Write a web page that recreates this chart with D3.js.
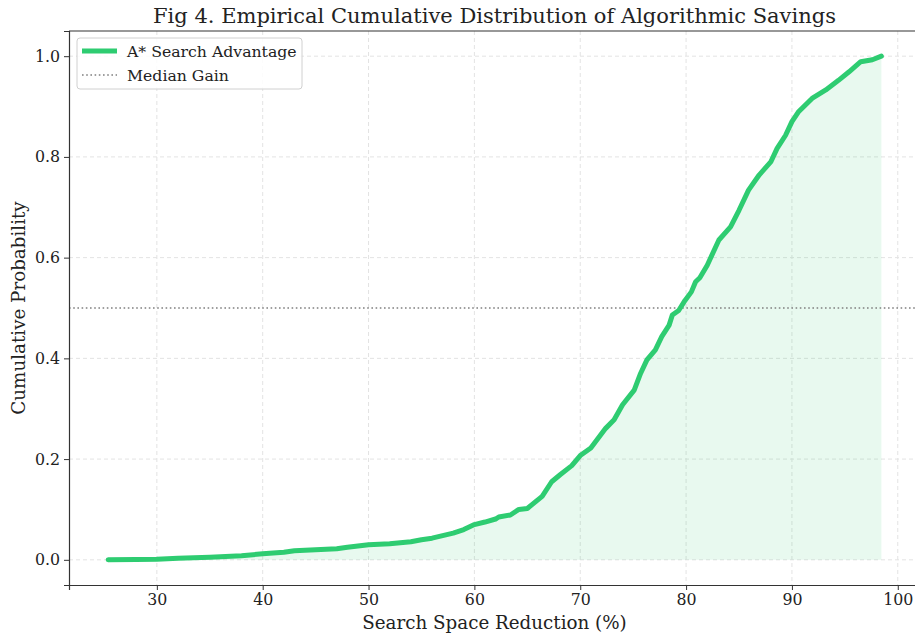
<!DOCTYPE html>
<meta charset="utf-8">
<style>
body { margin: 0; background: #fff; }
text { font-family: "DejaVu Serif", serif; fill: #222; }
.grid line { stroke: #e3e3e3; stroke-dasharray: 4,3; }
.axis path, .axis line { stroke: #333; }
.axis text { font-size: 15.8px; }
</style>
<svg width="915" height="637"></svg>
<script src="https://cdn.jsdelivr.net/npm/d3@7"></script>
<script>

// ECDF: search space reduction (%) and cumulative probability
var reduction = [25.4, 28, 30, 32, 35, 38, 40, 42, 43, 45, 47, 48, 50, 52, 54, 55, 56, 57, 58, 59, 60, 61, 62, 62.3, 63.4, 64.2, 65.0,
  66.4, 67.3, 68.1, 69.2, 70.0, 71.0, 72.4, 73.2, 74.0, 75.1, 75.7, 76.3, 77.1, 77.7, 78.4, 78.7, 79.3, 79.9, 80.5,
  80.9, 81.3, 82.0, 83.1, 84.2, 85.0, 85.9, 86.9, 88.0, 88.6, 89.4, 90.0, 90.6, 91.9, 93.2, 94.4, 95.4, 96.5, 97.6, 98.45];
var cumProb = [0.0, 0.0005, 0.001, 0.003, 0.005, 0.008, 0.012, 0.015, 0.018, 0.020, 0.022, 0.025, 0.030, 0.032, 0.036, 0.040, 0.043, 0.048, 0.053, 0.060, 0.070, 0.075, 0.081, 0.085, 0.089, 0.100, 0.102,
  0.126, 0.155, 0.169, 0.187, 0.207, 0.222, 0.261, 0.278, 0.308, 0.337, 0.370, 0.397, 0.417, 0.443, 0.466, 0.486, 0.495, 0.515, 0.532,
  0.552, 0.560, 0.585, 0.635, 0.661, 0.694, 0.734, 0.764, 0.790, 0.817, 0.843, 0.870, 0.889, 0.916, 0.933, 0.952, 0.969, 0.989, 0.993, 1.0];
var xTicks = [30, 40, 50, 60, 70, 80, 90, 100];
var yTicks = [0.0, 0.2, 0.4, 0.6, 0.8, 1.0];
var medianGain = 0.5;

var svg = d3.select("svg"),
    plotL = 69, plotR = 920, plotT = 31, plotB = 585;

var data = reduction.map(function(r, i) { return {x: r, y: cumProb[i]}; });

var x = d3.scaleLinear().domain([21.7, 102.1]).range([plotL, plotR]);
var y = d3.scaleLinear().domain([-0.05, 1.05]).range([plotB, plotT]);

// grid
var grid = svg.append("g").attr("class", "grid");
grid.selectAll(".gx").data(xTicks).enter().append("line")
    .attr("x1", x).attr("x2", x).attr("y1", plotT).attr("y2", plotB);
grid.selectAll(".gy").data(yTicks).enter().append("line")
    .attr("x1", plotL).attr("x2", plotR).attr("y1", y).attr("y2", y);

// fill under the curve
svg.append("path")
    .datum(data)
    .attr("fill", "#2ecc71")
    .attr("fill-opacity", 0.11)
    .attr("d", d3.area().x(function(d) { return x(d.x); }).y0(y(0)).y1(function(d) { return y(d.y); }));

// median line
svg.append("line")
    .attr("x1", plotL).attr("x2", plotR)
    .attr("y1", y(medianGain)).attr("y2", y(medianGain))
    .attr("stroke", "#808080").attr("stroke-width", 1.6)
    .attr("stroke-dasharray", "1.6,2.6");

// ECDF curve
svg.append("path")
    .datum(data)
    .attr("fill", "none")
    .attr("stroke", "#2ecc71")
    .attr("stroke-width", 5)
    .attr("stroke-linejoin", "round")
    .attr("stroke-linecap", "round")
    .attr("d", d3.line().x(function(d) { return x(d.x); }).y(function(d) { return y(d.y); }));

// axes
svg.append("g").attr("class", "axis")
    .attr("transform", "translate(0," + plotB + ")")
    .call(d3.axisBottom(x).tickValues(xTicks).tickFormat(d3.format("d")).tickSizeOuter(0).tickSize(5).tickPadding(4));
svg.append("g").attr("class", "axis")
    .attr("transform", "translate(" + plotL + ",0)")
    .call(d3.axisLeft(y).tickValues(yTicks).tickFormat(d3.format(".1f")).tickSizeOuter(0).tickSize(5).tickPadding(4));
svg.append("line")
    .attr("x1", plotL).attr("x2", plotR).attr("y1", plotT).attr("y2", plotT)
    .attr("stroke", "#333").attr("stroke-width", 1.2);
svg.selectAll(".axis .domain").attr("stroke-width", 1.2);

// labels
svg.append("text")
    .attr("x", (plotL + plotR) / 2).attr("y", 23)
    .attr("text-anchor", "middle").style("font-size", "21px")
    .text("Fig 4. Empirical Cumulative Distribution of Algorithmic Savings");
svg.append("text")
    .attr("x", (plotL + plotR) / 2).attr("y", 629)
    .attr("text-anchor", "middle").style("font-size", "18.3px")
    .text("Search Space Reduction (%)");
svg.append("text")
    .attr("transform", "translate(25," + ((plotT + plotB) / 2) + ") rotate(-90)")
    .attr("text-anchor", "middle").style("font-size", "18.3px")
    .text("Cumulative Probability");

// legend
var lg = svg.append("g").attr("transform", "translate(77,38)");
lg.append("rect")
    .attr("width", 225).attr("height", 51).attr("rx", 3)
    .attr("fill", "#fff").attr("fill-opacity", 0.85)
    .attr("stroke", "#d0d0d0");
lg.append("line").attr("x1", 5).attr("x2", 40).attr("y1", 13).attr("y2", 13)
    .attr("stroke", "#2ecc71").attr("stroke-width", 5);
lg.append("line").attr("x1", 5).attr("x2", 40).attr("y1", 37).attr("y2", 37)
    .attr("stroke", "#808080").attr("stroke-width", 1.6).attr("stroke-dasharray", "1.6,2.6");
lg.append("text").attr("x", 50).attr("y", 18.5).style("font-size", "15.7px").text("A* Search Advantage");
lg.append("text").attr("x", 50).attr("y", 42.5).style("font-size", "15.7px").text("Median Gain");

</script>
